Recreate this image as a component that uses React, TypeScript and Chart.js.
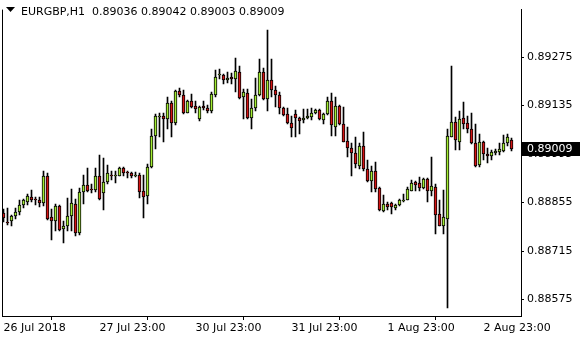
import { useEffect, useRef } from "react";
import { Chart, registerables } from "chart.js";
Chart.register(...registerables);

const symbolLabel = "EURGBP,H1";

const opens = [
  0.88824, 0.88799, 0.88802, 0.88816, 0.88827, 0.88847, 0.88858, 0.88872, 0.88866, 0.88861,
  0.88855, 0.88933, 0.88813, 0.88802, 0.88844, 0.88779, 0.88788, 0.88816, 0.88852, 0.88768,
  0.88886, 0.88905, 0.88894, 0.88891, 0.88933, 0.88883, 0.88914, 0.88936, 0.88931, 0.88933,
  0.88956, 0.88942, 0.88939, 0.88933, 0.88936, 0.88889, 0.88875, 0.88959, 0.89048, 0.89101,
  0.89104, 0.89096, 0.89143, 0.89085, 0.89177, 0.89166, 0.89115, 0.89149, 0.89135, 0.89096,
  0.89135, 0.89127, 0.89118, 0.89166, 0.89222, 0.89222, 0.89208, 0.89219, 0.89211, 0.89233,
  0.89160, 0.89171, 0.89099, 0.89127, 0.89166, 0.89233, 0.89155, 0.89208, 0.89180, 0.89166,
  0.89127, 0.89110, 0.89085, 0.89110, 0.89099, 0.89093, 0.89099, 0.89101, 0.89113, 0.89121,
  0.89093, 0.89110, 0.89149, 0.89073, 0.89135, 0.89082, 0.89034, 0.89012, 0.88998, 0.88961,
  0.89017, 0.88953, 0.88917, 0.88945, 0.88897, 0.88830, 0.88852, 0.88855, 0.88838, 0.88847,
  0.88860, 0.88863, 0.88889, 0.88914, 0.88911, 0.88897, 0.88922, 0.88889, 0.88900, 0.88821,
  0.88788, 0.88807, 0.89045, 0.89087, 0.89031, 0.89099, 0.89085, 0.89068, 0.89026, 0.88964,
  0.89029, 0.88995, 0.88989, 0.88998, 0.89001, 0.89003, 0.89026, 0.89036,
];
const highs = [
  0.88835, 0.88838, 0.88819, 0.88838, 0.88861, 0.88866, 0.88880, 0.88891, 0.88872, 0.88872,
  0.88947, 0.88939, 0.88835, 0.88852, 0.88847, 0.88802, 0.88869, 0.88894, 0.88866, 0.88897,
  0.88936, 0.88956, 0.88908, 0.88956, 0.88992, 0.88984, 0.88964, 0.88945, 0.88945, 0.88959,
  0.88959, 0.88945, 0.88942, 0.88942, 0.88940, 0.88936, 0.88967, 0.89068, 0.89110, 0.89113,
  0.89113, 0.89160, 0.89149, 0.89180, 0.89185, 0.89180, 0.89152, 0.89169, 0.89149, 0.89135,
  0.89149, 0.89138, 0.89174, 0.89239, 0.89241, 0.89225, 0.89233, 0.89230, 0.89272, 0.89250,
  0.89183, 0.89183, 0.89155, 0.89216, 0.89269, 0.89244, 0.89353, 0.89269, 0.89191, 0.89174,
  0.89132, 0.89129, 0.89104, 0.89121, 0.89101, 0.89124, 0.89124, 0.89127, 0.89124, 0.89124,
  0.89113, 0.89160, 0.89171, 0.89160, 0.89138, 0.89132, 0.89073, 0.89026, 0.89043, 0.89026,
  0.89059, 0.88978, 0.88961, 0.88973, 0.88900, 0.88877, 0.88858, 0.88858, 0.88852, 0.88866,
  0.88880, 0.88900, 0.88919, 0.88917, 0.88928, 0.88925, 0.88925, 0.88987, 0.88908, 0.88861,
  0.88891, 0.89068, 0.89250, 0.89101, 0.89118, 0.89146, 0.89104, 0.89115, 0.89082, 0.89054,
  0.89034, 0.89012, 0.89006, 0.89009, 0.89026, 0.89051, 0.89054, 0.89042,
];
const lows = [
  0.88799, 0.88791, 0.88788, 0.88807, 0.88819, 0.88838, 0.88847, 0.88858, 0.88849, 0.88841,
  0.88844, 0.88805, 0.88746, 0.88774, 0.88774, 0.88737, 0.88774, 0.88774, 0.88757, 0.88760,
  0.88852, 0.88886, 0.88883, 0.88886, 0.88863, 0.88833, 0.88908, 0.88919, 0.88911, 0.88931,
  0.88933, 0.88925, 0.88925, 0.88928, 0.88869, 0.88810, 0.88852, 0.88956, 0.89009, 0.89043,
  0.89031, 0.89068, 0.89043, 0.89079, 0.89160, 0.89110, 0.89113, 0.89127, 0.89113, 0.89090,
  0.89121, 0.89115, 0.89113, 0.89160, 0.89211, 0.89197, 0.89199, 0.89197, 0.89174, 0.89155,
  0.89096, 0.89096, 0.89068, 0.89118, 0.89163, 0.89152, 0.89118, 0.89160, 0.89132, 0.89110,
  0.89104, 0.89082, 0.89043, 0.89043, 0.89054, 0.89085, 0.89096, 0.89093, 0.89110, 0.89093,
  0.89082, 0.89107, 0.89048, 0.89048, 0.89079, 0.89029, 0.88987, 0.88933, 0.88956, 0.88953,
  0.88947, 0.88914, 0.88886, 0.88886, 0.88830, 0.88827, 0.88833, 0.88821, 0.88833, 0.88844,
  0.88858, 0.88861, 0.88887, 0.88889, 0.88889, 0.88894, 0.88858, 0.88875, 0.88763, 0.88786,
  0.88763, 0.88550, 0.89043, 0.89006, 0.89006, 0.89068, 0.89057, 0.89023, 0.88959, 0.88959,
  0.88978, 0.88970, 0.88978, 0.88992, 0.88992, 0.89001, 0.89017, 0.89003,
];
const closes = [
  0.88810, 0.88796, 0.88816, 0.88827, 0.88847, 0.88861, 0.88875, 0.88863, 0.88861, 0.88855,
  0.88933, 0.88807, 0.88802, 0.88844, 0.88777, 0.88788, 0.88816, 0.88855, 0.88768, 0.88886,
  0.88905, 0.88889, 0.88891, 0.88933, 0.88866, 0.88914, 0.88939, 0.88931, 0.88936, 0.88956,
  0.88939, 0.88939, 0.88931, 0.88936, 0.88886, 0.88872, 0.88959, 0.89048, 0.89104, 0.89104,
  0.89096, 0.89143, 0.89085, 0.89177, 0.89166, 0.89113, 0.89149, 0.89132, 0.89124, 0.89132,
  0.89127, 0.89118, 0.89169, 0.89219, 0.89225, 0.89208, 0.89216, 0.89211, 0.89236, 0.89157,
  0.89174, 0.89099, 0.89127, 0.89166, 0.89233, 0.89155, 0.89208, 0.89180, 0.89166, 0.89127,
  0.89107, 0.89085, 0.89071, 0.89099, 0.89090, 0.89099, 0.89104, 0.89113, 0.89121, 0.89096,
  0.89110, 0.89149, 0.89079, 0.89135, 0.89082, 0.89031, 0.89012, 0.88998, 0.88967, 0.89017,
  0.88953, 0.88917, 0.88945, 0.88894, 0.88833, 0.88852, 0.88841, 0.88841, 0.88847, 0.88863,
  0.88863, 0.88894, 0.88911, 0.88905, 0.88897, 0.88922, 0.88889, 0.88903, 0.88819, 0.88788,
  0.88813, 0.89048, 0.89087, 0.89037, 0.89096, 0.89082, 0.89068, 0.89026, 0.88961, 0.89029,
  0.88995, 0.88989, 0.89001, 0.89003, 0.89009, 0.89026, 0.89043, 0.89009,
];

const xTickIndex = [0, 24, 48, 72, 96, 120];
const xTickLabels = ["26 Jul 2018", "27 Jul 23:00", "30 Jul 23:00", "31 Jul 23:00", "1 Aug 23:00", "2 Aug 23:00"];
const yTicks = [0.88575, 0.88715, 0.88855, 0.88995, 0.89135, 0.89275];

const BULL = "#A2EC32";
const BEAR = "#D41414";
const FONT = '"DejaVu Sans", sans-serif';

export default function App() {
  const ref = useRef<HTMLCanvasElement>(null);
  useEffect(() => {
    document.body.style.margin = "0";
    const canvas = ref.current!;
    const idx = opens.map((_, i) => i);
    const bodies = idx.map((i) => ({ x: i, y: [opens[i], closes[i]] }));
    const wicks = idx.map((i) => ({ x: i, y: [lows[i], highs[i]] }));
    const colors = idx.map((i) => (closes[i] >= opens[i] ? BULL : BEAR));
    const n = closes.length;
    const last = closes[n - 1];
    const header = `${symbolLabel}  ${opens[n - 1].toFixed(5)} ${highs[n - 1].toFixed(5)} ${lows[n - 1].toFixed(5)} ${closes[n - 1].toFixed(5)}`;

    const pixelSnap = {
      id: "pixelSnap",
      beforeDatasetsDraw(chart: any) {
        chart.data.datasets.forEach((_: any, di: number) => {
          const meta = chart.getDatasetMeta(di);
          meta.data.forEach((el: any) => {
            let top = Math.round(Math.min(el.y, el.base));
            let bot = Math.round(Math.max(el.y, el.base));
            if (bot - top < 1) bot = top + 1;
            el.y = top;
            el.base = bot;
          });
        });
      },
    };

    const overlay = {
      id: "mt4overlay",
      afterDraw(chart: any) {
        const c = chart.ctx as CanvasRenderingContext2D;
        const area = chart.chartArea;
        const ys = chart.scales.y;
        c.save();
        c.fillStyle = "#000";
        c.fillRect(area.left, area.top, 1, area.bottom - area.top + 1);
        // header
        c.beginPath();
        c.moveTo(6, 7);
        c.lineTo(15, 7);
        c.lineTo(10.5, 12);
        c.closePath();
        c.fill();
        c.font = `11px ${FONT}`;
        c.textBaseline = "alphabetic";
        c.textAlign = "left";
        c.fillText(header, 21, 15);
        // price box
        const py = Math.round(ys.getPixelForValue(last));
        c.fillRect(area.right, py - 7, 580 - area.right, 14);
        c.fillStyle = "#fff";
        c.textBaseline = "middle";
        c.fillText(last.toFixed(5), area.right + 6, py);
        c.restore();
      },
    };

    const chart = new Chart(canvas, {
      type: "bar",
      data: {
        datasets: [
          {
            label: "body",
            data: bodies as any,
            backgroundColor: colors,
            borderColor: "#000",
            borderWidth: 1,
            borderSkipped: false,
            barThickness: 3,
            grouped: false,
            order: 0,
          },
          {
            label: "wick",
            data: wicks as any,
            backgroundColor: "#000",
            borderWidth: 0,
            barThickness: 1,
            grouped: false,
            order: 1,
          },
        ],
      },
      options: {
        responsive: false,
        animation: false,
        devicePixelRatio: 1,
        layout: { padding: { left: 2, top: 0, right: 0, bottom: 0 } },
        plugins: { legend: { display: false }, tooltip: { enabled: false } },
        scales: {
          x: {
            type: "linear",
            min: -0.375,
            max: 129.375,
            offset: false,
            grid: { display: true, drawOnChartArea: false, drawTicks: true, tickLength: 4, color: "#000" },
            border: { display: true, color: "#000" },
            ticks: {
              autoSkip: false,
              maxRotation: 0,
              align: "start",
              padding: 2,
              color: "#000",
              font: { family: FONT, size: 11 },
              callback: (v: any) => {
                const k = xTickIndex.indexOf(Number(v));
                return k >= 0 ? xTickLabels[k] : "";
              },
            },
            afterBuildTicks: (s: any) => {
              s.ticks = xTickIndex.map((v) => ({ value: v }));
            },
            afterFit: (s: any) => {
              s.height = 24;
            },
          },
          y: {
            type: "linear",
            position: "right",
            min: 0.885274,
            max: 0.894122,
            beginAtZero: false,
            grid: { display: true, drawOnChartArea: false, drawTicks: true, tickLength: 3, color: "#000" },
            border: { display: true, color: "#000" },
            ticks: {
              padding: 3,
              color: "#000",
              font: { family: FONT, size: 11 },
              callback: (v: any) => Number(v).toFixed(5),
            },
            afterBuildTicks: (s: any) => {
              s.ticks = yTicks.map((v) => ({ value: v }));
            },
            afterFit: (s: any) => {
              s.width = 59;
            },
          },
        },
      },
      plugins: [pixelSnap, overlay],
    } as any);
    return () => chart.destroy();
  }, []);
  return <canvas ref={ref} width={580} height={340} style={{ display: "block" }} />;
}
